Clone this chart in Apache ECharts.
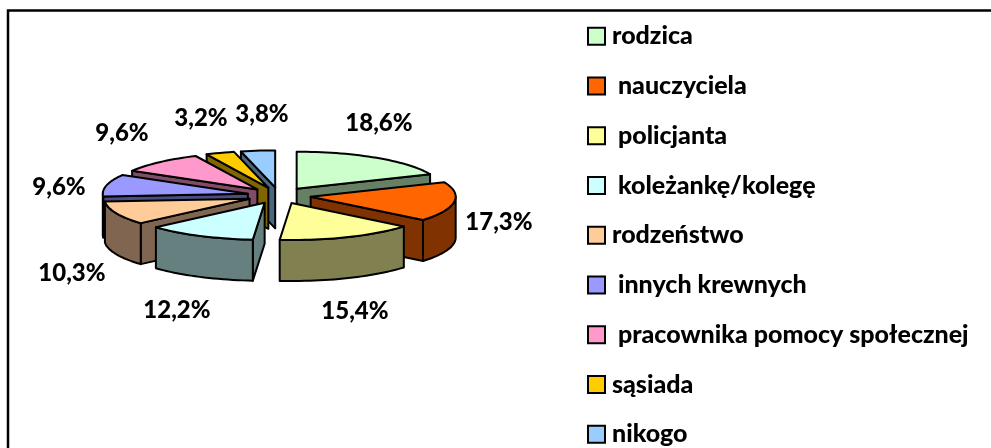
<!DOCTYPE html>
<html>
<head>
<meta charset="utf-8">
<style>
  html, body { margin: 0; background: #fff; }
  #main { width: 991px; height: 448px; }
</style>
<script src="https://cdn.jsdelivr.net/npm/echarts@6/dist/echarts.min.js"></script>
</head>
<body>
<div id="main"></div>
<script>
const categories = ['rodzica', 'nauczyciela', 'policjanta', 'koleżankę/kolegę', 'rodzeństwo',
  'innych krewnych', 'pracownika pomocy społecznej', 'sąsiada', 'nikogo'];
const values = [18.6, 17.3, 15.4, 12.2, 10.3, 9.6, 9.6, 3.2, 3.8];
const topColors = ['#ccffcc', '#ff6600', '#ffff99', '#ccffff', '#ffcc99', '#9999ff', '#ff99cc', '#ffcc00', '#99ccff'];
const sideColors = ['#668066', '#803300', '#808050', '#668080', '#806650', '#4d4d80', '#804d66', '#806600', '#4d6680'];
// legend names that sit a little further from the swatch in the original
const indented = ['nauczyciela', 'policjanta', 'koleżankę/kolegę', 'innych krewnych', 'pracownika pomocy społecznej'];

// pie geometry, in px
const cx = 279, cy = 195.5, rx = 145, ry = 37, depth = 41, explode = 32;
// where each label centre sits relative to the pie centre
const labelOffsets = [[100, -72], [220, 27], [76, 116], [-102, 115], [-207, 78], [-220, -8], [-157, -62], [-78, -77], [-17, -81]];

const total = values.reduce((a, b) => a + b, 0);
const rad = d => d * Math.PI / 180;

// angles run clockwise from 12 o'clock
let acc = 0;
const slices = values.map((v, i) => {
  const start = acc / total * 360;
  acc += v;
  return { i, start, end: acc / total * 360, mid: (start + acc / total * 360) / 2 };
});
// back slices first, so the nearer ones cover them
const drawOrder = slices.slice().sort((a, b) => Math.cos(rad(b.mid)) - Math.cos(rad(a.mid))).map(s => s.i);

function renderSlice(s) {
  const k = ry / rx;
  const ox = cx + explode * Math.sin(rad(s.mid));
  const oy = cy - explode * k * Math.cos(rad(s.mid));
  const pt = (a, h) => [ox + rx * Math.sin(rad(a)), oy - ry * Math.cos(rad(a)) + h];
  const arc = (a, b, h) => {
    const pts = [];
    const n = Math.max(2, Math.ceil(Math.abs(b - a) / 2));
    for (let j = 0; j <= n; j++) pts.push(pt(a + (b - a) * j / n, h));
    return pts;
  };
  const lineStyle = { stroke: '#000', lineWidth: 2, lineJoin: 'round' };
  const side = { ...lineStyle, fill: sideColors[s.i] };
  const children = [];

  // only the radial faces turned to the viewer get drawn
  if (Math.sin(rad(s.end)) > 0) {
    children.push({ type: 'polygon', shape: { points: [[ox, oy], pt(s.end, 0), pt(s.end, depth), [ox, oy + depth]] }, style: side });
  }
  if (Math.sin(rad(s.start)) < 0) {
    children.push({ type: 'polygon', shape: { points: [[ox, oy], pt(s.start, 0), pt(s.start, depth), [ox, oy + depth]] }, style: side });
  }
  // front part of the rim
  const a0 = Math.max(s.start, 90), a1 = Math.min(s.end, 270);
  if (a1 > a0) {
    children.push({ type: 'polygon', shape: { points: arc(a0, a1, 0).concat(arc(a1, a0, depth)) }, style: side });
  }
  children.push({
    type: 'polygon',
    shape: { points: [[ox, oy]].concat(arc(s.start, s.end, 0)) },
    style: { ...lineStyle, fill: topColors[s.i] }
  });
  return { type: 'group', children };
}

function renderLabel(s) {
  const off = labelOffsets[s.i];
  return {
    type: 'text',
    style: {
      text: values[s.i].toFixed(1).replace('.', ',') + '%',
      x: cx + off[0],
      y: cy + off[1],
      align: 'center',
      verticalAlign: 'middle',
      font: '900 24px Lato',
      fill: '#000'
    }
  };
}

const series = slices.map(s => ({
  type: 'custom',
  name: categories[s.i],
  coordinateSystem: 'none',
  z: 2 + drawOrder.indexOf(s.i),
  silent: true,
  animation: false,
  itemStyle: { color: topColors[s.i] },
  data: [values[s.i]],
  renderItem: () => ({ type: 'group', children: [renderSlice(s), renderLabel(s)] })
}));

const chart = echarts.init(document.getElementById('main'), null, { renderer: 'canvas' });
chart.setOption({
  animation: false,
  backgroundColor: '#fff',
  graphic: [{
    type: 'rect',
    shape: { x: 8, y: 10.5, width: 1100, height: 600 },
    style: { fill: 'none', stroke: '#000', lineWidth: 2.5 },
    silent: true
  }],
  legend: {
    orient: 'vertical',
    left: 587,
    top: 23.7,
    height: 424,
    padding: 0,
    itemWidth: 17,
    itemHeight: 17,
    itemGap: 24.75,
    icon: 'rect',
    selectedMode: false,
    itemStyle: { borderColor: '#000', borderWidth: 2 },
    data: categories,
    formatter: name => indented.includes(name) ? ' ' + name : name,
    textStyle: { fontFamily: 'Lato', fontWeight: 900, fontSize: 25, lineHeight: 17, color: '#000', padding: [0, 0, 0, 2] }
  },
  series
});
</script>
</body>
</html>
